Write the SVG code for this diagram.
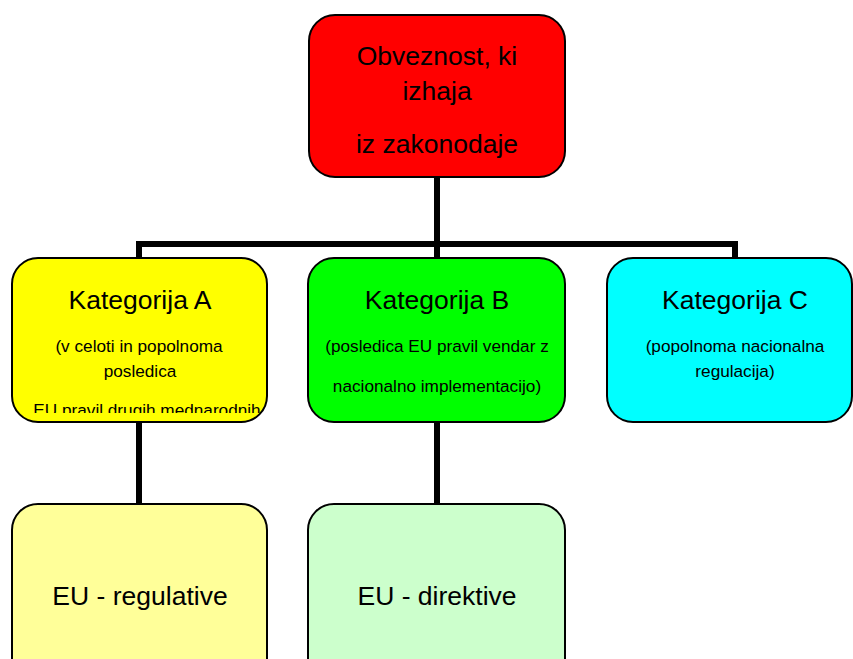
<svg xmlns="http://www.w3.org/2000/svg" width="853" height="659" viewBox="0 0 853 659">
  <style>
    .box { stroke: #000; stroke-width: 2; }
    .wire { fill: none; stroke: #000; stroke-width: 6; }
    text { font-family: "Liberation Sans", Arial, sans-serif; fill: #000; text-anchor: middle; }
    .big { font-size: 26.5px; }
    .small { font-size: 17.2px; }
  </style>
  <defs>
    <clipPath id="clipA">
      <rect x="13" y="259" width="253" height="154"/>
    </clipPath>
  </defs>
  <rect width="853" height="659" fill="#fff"/>

  <!-- connectors -->
  <g id="connectors">
    <path class="wire" d="M437 177 V244"/>
    <path class="wire" d="M139 258 V244 H735 V258"/>
    <path class="wire" d="M437 244 V258"/>
    <path class="wire" d="M139 422 V504"/>
    <path class="wire" d="M437 422 V504"/>
  </g>

  <!-- root -->
  <g id="root">
    <rect class="box" x="309" y="15" width="256" height="162" rx="26" fill="#ff0000"/>
    <text class="big" x="437" y="65">Obveznost, ki</text>
    <text class="big" x="437" y="100">izhaja</text>
    <text class="big" x="437" y="153">iz zakonodaje</text>
  </g>

  <!-- category A -->
  <g id="kategorija-a">
    <rect class="box" x="12" y="258" width="255" height="164" rx="26" fill="#ffff00"/>
    <text class="big" x="140" y="309">Kategorija A</text>
    <text class="small" x="139" y="352">(v celoti in popolnoma</text>
    <text class="small" x="140" y="377">posledica</text>
    <text class="small" x="147" y="416" clip-path="url(#clipA)">EU pravil drugih mednarodnih</text>
  </g>

  <!-- category B -->
  <g id="kategorija-b">
    <rect class="box" x="308" y="258" width="257" height="164" rx="26" fill="#00ff00"/>
    <text class="big" x="437" y="309">Kategorija B</text>
    <text class="small" x="437" y="352">(posledica EU pravil vendar z</text>
    <text class="small" x="437" y="392">nacionalno implementacijo)</text>
  </g>

  <!-- category C -->
  <g id="kategorija-c">
    <rect class="box" x="607" y="258" width="245" height="164" rx="26" fill="#00ffff"/>
    <text class="big" x="735" y="309">Kategorija C</text>
    <text class="small" x="735" y="352">(popolnoma nacionalna</text>
    <text class="small" x="735" y="377">regulacija)</text>
  </g>

  <!-- EU regulations -->
  <g id="eu-regulative">
    <rect class="box" x="12" y="504" width="255" height="180" rx="26" fill="#ffff99"/>
    <text class="big" x="140" y="605">EU - regulative</text>
  </g>

  <!-- EU directives -->
  <g id="eu-direktive">
    <rect class="box" x="308" y="504" width="257" height="180" rx="26" fill="#ccffcc"/>
    <text class="big" x="437" y="605">EU - direktive</text>
  </g>
</svg>
